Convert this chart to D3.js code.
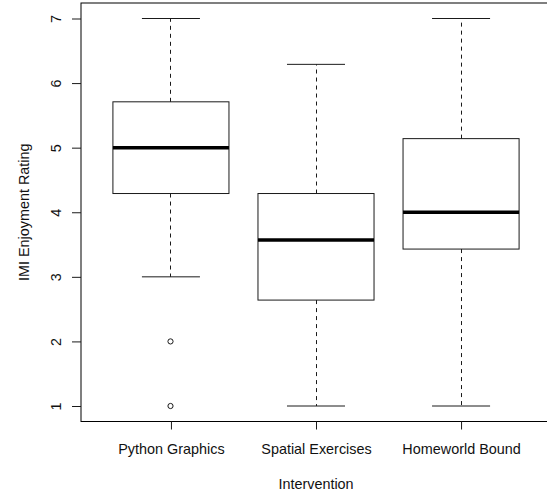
<!DOCTYPE html>
<html>
<head>
<meta charset="utf-8">
<script src="https://cdn.jsdelivr.net/npm/d3@7"></script>
<style>
  body { margin: 0; background: #fff; }
  text { font-family: "Liberation Sans", Arial, sans-serif; fill: #111; }
</style>
</head>
<body>
<div id="chart"></div>
<script>
// box summaries per intervention
const groups = ["Python Graphics", "Spatial Exercises", "Homeworld Bound"]
const lowerWhisker = [3, 1, 1]
const q1 = [4.29, 2.64, 3.43]
const median = [5, 3.57, 4]
const q3 = [5.71, 4.29, 5.14]
const upperWhisker = [7, 6.29, 7]
const outliers = [[2, 1], [], []]
const yTicks = [1, 2, 3, 4, 5, 6, 7]

const width = 547, height = 494
const plot = { left: 81, right: 551, top: 3, bottom: 421.5 }
const fontSize = 14.4

const svg = d3.select("#chart").append("svg")
    .attr("width", width)
    .attr("height", height)

// R style ranges: 0.5..n+0.5 plus 4%
const x = d3.scaleLinear().domain([0.38, 3.62]).range([plot.left, plot.right])
const y = d3.scaleLinear().domain([0.76, 7.24]).range([plot.bottom, plot.top])

const boxes = groups.map((g, i) => ({
    name: g, pos: i + 1,
    lo: lowerWhisker[i], q1: q1[i], med: median[i], q3: q3[i], hi: upperWhisker[i],
    out: outliers[i]
}))

const halfBox = 0.4, halfCap = 0.2
const ink = "#1a1a1a"

const g = svg.append("g")

boxes.forEach(b => {
    // snap whisker to a pixel centre so the dashes stay dark
    const cx = Math.floor(x(b.pos)) + 0.5
    // dashed whiskers
    g.append("line")
        .attr("x1", cx).attr("x2", cx)
        .attr("y1", y(b.q3)).attr("y2", y(b.hi))
        .attr("stroke", ink).attr("stroke-dasharray", "4,4")
    g.append("line")
        .attr("x1", cx).attr("x2", cx)
        .attr("y1", y(b.q1)).attr("y2", y(b.lo))
        .attr("stroke", ink).attr("stroke-dasharray", "4,4")
    // caps
    ;[b.lo, b.hi].forEach(v => {
        g.append("line")
            .attr("x1", x(b.pos - halfCap)).attr("x2", x(b.pos + halfCap))
            .attr("y1", y(v)).attr("y2", y(v))
            .attr("stroke", ink)
    })
    // box
    g.append("rect")
        .attr("x", x(b.pos - halfBox))
        .attr("y", y(b.q3))
        .attr("width", x(b.pos + halfBox) - x(b.pos - halfBox))
        .attr("height", y(b.q1) - y(b.q3))
        .attr("fill", "none").attr("stroke", ink)
    // median
    g.append("line")
        .attr("x1", x(b.pos - halfBox)).attr("x2", x(b.pos + halfBox))
        .attr("y1", y(b.med)).attr("y2", y(b.med))
        .attr("stroke", "#000").attr("stroke-width", 3.5)
    // outliers
    b.out.forEach(v => {
        g.append("circle")
            .attr("cx", cx).attr("cy", y(v)).attr("r", 2.6)
            .attr("fill", "none").attr("stroke", ink)
    })
})

// frame
svg.append("rect")
    .attr("x", plot.left).attr("y", plot.top)
    .attr("width", plot.right - plot.left)
    .attr("height", plot.bottom - plot.top)
    .attr("fill", "none").attr("stroke", "#000")

// y axis
const yAxis = svg.append("g")
    .attr("transform", "translate(" + plot.left + ",0)")
    .call(d3.axisLeft(y).tickValues(yTicks).tickSize(9).tickFormat(d3.format("d")))
yAxis.select(".domain").remove()
yAxis.selectAll("line").attr("stroke", ink)
yAxis.selectAll("text")
    .attr("x", null).attr("dy", null)
    .attr("transform", "translate(-20,0) rotate(-90)")
    .attr("text-anchor", "middle")
    .style("font-size", fontSize + "px")

// x axis
const xAxis = svg.append("g")
    .attr("transform", "translate(0," + plot.bottom + ")")
    .call(d3.axisBottom(x).tickValues([1, 2, 3]).tickSize(8).tickFormat(d => groups[d - 1]))
xAxis.select(".domain").remove()
xAxis.selectAll("line").attr("stroke", ink)
xAxis.selectAll("text")
    .attr("y", 32.5).attr("dy", null)
    .style("font-size", fontSize + "px")
svg.selectAll(".tick text").attr("fill", "#111")
svg.selectAll("g").attr("font-family", null).attr("font-size", null)

// axis titles
svg.append("text")
    .attr("x", (plot.left + plot.right) / 2)
    .attr("y", 489)
    .attr("text-anchor", "middle")
    .style("font-size", fontSize + "px")
    .text("Intervention")

svg.append("text")
    .attr("transform", "translate(29.3," + (plot.top + plot.bottom) / 2 + ") rotate(-90)")
    .attr("text-anchor", "middle")
    .style("font-size", fontSize + "px")
    .text("IMI Enjoyment Rating")
</script>
</body>
</html>
